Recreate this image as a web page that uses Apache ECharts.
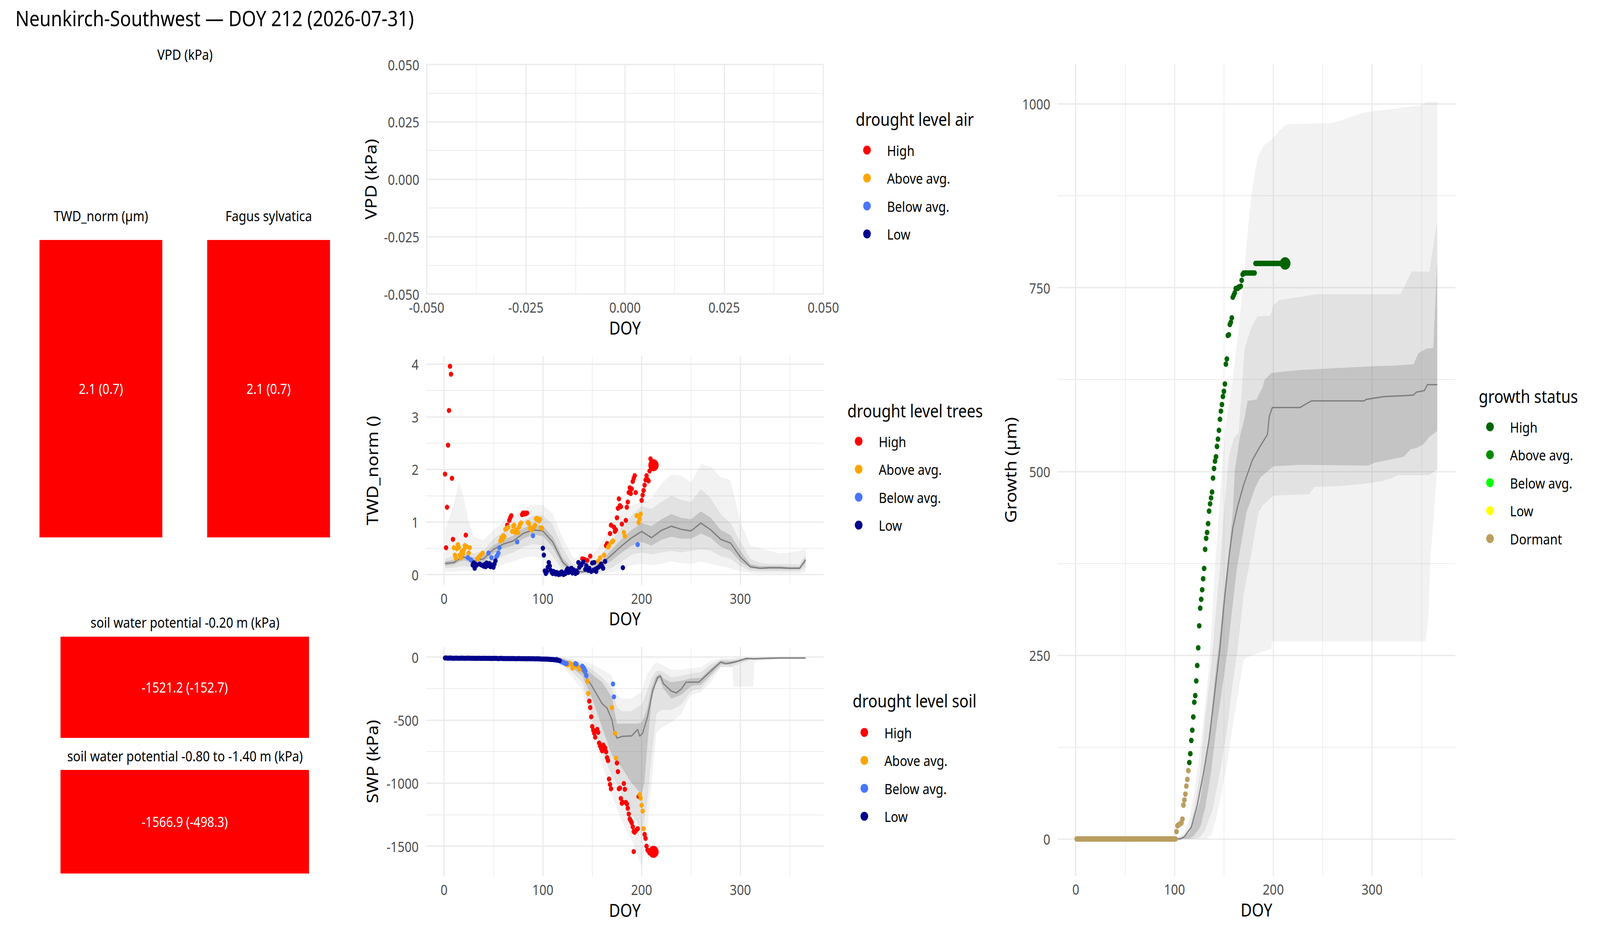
<!DOCTYPE html>
<html><head><meta charset="utf-8">
<script src="https://cdn.jsdelivr.net/npm/echarts@6/dist/echarts.min.js"></script>
<style>html,body{margin:0;padding:0;background:#fff;overflow:hidden;width:100%;height:100%}#c{width:4800px;height:2400px;transform-origin:0 0;position:absolute;left:0;top:0}</style>
</head><body><div id="c"></div>
<script>
// ---------------- DATA ----------------
const titleText = 'Neunkirch-Southwest \u2014 DOY 212 (2026-07-31)';
const currentDoy = 212;

const levelNames = ['High', 'Above avg.', 'Below avg.', 'Low'];
const levelCodes = ['H', 'A', 'B', 'L'];
const droughtColors = ['#FF0000', '#FFA500', '#4876FF', '#00008B'];
const growthNames = ['High', 'Above avg.', 'Below avg.', 'Low', 'Dormant'];
const growthColors = ['#006400', '#008B00', '#00FF00', '#FFFF00', '#BA9D5F'];

// tiles
const tileTitles = ['TWD_norm (\u00b5m)', 'Fagus sylvatica', 'soil water potential -0.20 m (kPa)', 'soil water potential -0.80 to -1.40 m (kPa)'];
const tileMeans = [2.1, 2.1, -1521.2, -1566.9];
const tileSds = [0.7, 0.7, -152.7, -498.3];
const tileLevel = ['High', 'High', 'High', 'High'];

// tick labels
const doyTicks = [0, 100, 200, 300];
const vpdTicks = [-0.05, -0.025, 0, 0.025, 0.05];
const twdTicks = [0, 1, 2, 3, 4];
const swpTicks = [-1500, -1000, -500, 0];
const growthTicks = [0, 250, 500, 750, 1000];

// TWD_norm daily values, DOY 1..212
const twdVal = [
  1.91, 0.51, 1.28, 2.46, 3.12, 3.96, 3.81, 1.83, 0.67, 0.51,
  0.37, 0.31, 0.49, 0.57, 0.52, 0.37, 0.32, 0.44, 0.40, 0.47,
  0.55, 0.75, 0.53, 0.32, 0.41, 0.51, 0.28, 0.26, 0.18, 0.22,
  0.12, 0.20, 0.18, 0.30, 0.33, 0.20, 0.37, 0.18, 0.41, 0.16,
  0.19, 0.15, 0.22, 0.17, 0.41, 0.21, 0.15, 0.32, 0.18, 0.14,
  0.20, 0.26, 0.34, 0.37, 0.41, 0.51, 0.64, 0.70, 0.66, 0.74,
  0.72, 0.86, 0.87, 0.94, 0.90, 1.03, 1.08, 1.12, 0.82, 0.92,
  0.94, 0.80, 0.85, 0.62, 0.80, 0.90, 0.96, 0.98, 1.14, 1.17,
  1.15, 1.17, 1.16, 1.17, 0.99, 0.97, 0.88, 0.86, 0.85, 0.74,
  0.90, 0.94, 1.06, 1.07, 1.04, 1.02, 1.05, 0.89, 0.88, 0.50,
  0.37, 0.07, 0.02, 0.05, 0.14, 0.23, 0.16, 0.08, 0.04, 0.02,
  0.06, 0.03, 0.01, 0.04, 0.02, 0.00, 0.03, 0.01, 0.05, 0.02,
  0.00, 0.03, 0.02, 0.08, 0.11, 0.04, 0.10, 0.06, 0.12, 0.03,
  0.09, 0.05, 0.02, 0.07, 0.04, 0.23, 0.14, 0.20, 0.18, 0.30,
  0.24, 0.29, 0.10, 0.17, 0.27, 0.08, 0.12, 0.35, 0.06, 0.22,
  0.08, 0.23, 0.10, 0.06, 0.12, 0.25, 0.15, 0.32, 0.20, 0.16,
  0.12, 0.37, 0.25, 0.55, 0.59, 0.52, 0.55, 0.78, 0.94, 0.62,
  0.64, 0.90, 0.82, 0.85, 1.08, 1.26, 1.44, 1.31, 1.29, 0.96,
  0.13, 0.80, 0.73, 1.03, 1.28, 1.38, 1.56, 1.65, 1.54, 1.63,
  1.77, 1.83, 1.88, 1.56, 1.12, 0.57, 0.99, 1.06, 1.15, 1.41,
  1.51, 1.60, 1.70, 1.80, 1.88, 1.81, 1.78, 1.97, 2.20, 2.10,
  2.05, 2.08
];
// drought level per day (H High, A Above avg., B Below avg., L Low)
const twdLevel =
  'HHHHHHHHHA' + 'AAAAAAAAAA' + 'AHABAABBLL' + 'LLLAALALAL' + 'LLLLBLLBLL' +
  'LLBBBBAAAA' + 'AAAHAHHHAA' + 'AAABAAAAHH' + 'HHHHAAAAAB' + 'AAAAAAAAAL' +
  'LLLLLLLLLL' + 'LLLLLLLLLL' + 'LLLLLLLLLL' + 'LLLLLLLLLH' + 'LHLLHLLHLL' +
  'LLLLLALALL' + 'LALHHAAHHA' + 'AHHHHHHHHH' + 'LAAHHHHHHH' + 'HHHHABAAAH' +
  'HHHHHHHHHH' + 'HH';

// TWD climatology: [doy, lo, hi]
const twdOuter = [[1,0.05,0.85],[10,0.05,1.35],[15,0.06,1.76],[20,0.07,1.45],[25,0.07,1.00],[30,0.06,0.72],[40,0.07,0.65],[50,0.12,0.85],[60,0.20,1.00],[70,0.25,1.10],[80,0.32,1.25],[90,0.35,1.33],[100,0.30,1.32],[110,0.15,1.15],[120,0.02,0.70],[130,0.00,0.35],[140,0.00,0.22],[150,0.00,0.35],[160,0.01,0.62],[170,0.04,0.95],[180,0.10,1.20],[190,0.18,1.32],[200,0.20,1.38],[210,0.18,1.45],[220,0.20,1.72],[230,0.25,1.90],[240,0.22,1.88],[250,0.20,1.75],[260,0.25,2.10],[270,0.20,2.05],[280,0.16,1.85],[290,0.12,1.80],[300,0.06,1.00],[310,0.03,0.55],[320,0.02,0.50],[330,0.02,0.45],[340,0.02,0.40],[350,0.02,0.42],[360,0.02,0.45],[366,0.05,0.50]];
const twdMid = [[1,0.12,0.30],[10,0.13,0.36],[15,0.15,0.42],[20,0.16,0.46],[25,0.15,0.44],[30,0.13,0.40],[40,0.15,0.45],[50,0.25,0.68],[60,0.35,0.82],[70,0.42,0.90],[80,0.52,1.02],[90,0.58,1.12],[100,0.55,1.13],[110,0.35,0.95],[120,0.08,0.50],[130,0.01,0.20],[140,0.01,0.14],[150,0.02,0.22],[160,0.06,0.40],[170,0.13,0.65],[180,0.25,0.90],[190,0.38,1.12],[200,0.42,1.30],[210,0.38,1.25],[220,0.42,1.38],[230,0.45,1.50],[240,0.42,1.42],[250,0.45,1.38],[260,0.48,1.62],[270,0.45,1.45],[280,0.35,1.15],[290,0.30,0.98],[300,0.16,0.62],[310,0.07,0.30],[320,0.06,0.22],[330,0.06,0.20],[340,0.06,0.20],[350,0.06,0.20],[360,0.06,0.20],[366,0.14,0.38]];
const twdInner = [[1,0.17,0.25],[10,0.19,0.28],[15,0.24,0.34],[20,0.27,0.40],[25,0.24,0.37],[30,0.20,0.32],[40,0.24,0.37],[50,0.40,0.56],[60,0.50,0.66],[70,0.55,0.74],[80,0.68,0.88],[90,0.76,0.95],[100,0.73,0.93],[110,0.52,0.72],[120,0.17,0.32],[130,0.04,0.11],[140,0.03,0.09],[150,0.05,0.14],[160,0.14,0.28],[170,0.27,0.48],[180,0.42,0.68],[190,0.55,0.85],[200,0.62,0.98],[210,0.55,0.92],[220,0.66,1.05],[230,0.72,1.15],[240,0.68,1.08],[250,0.68,1.05],[260,0.78,1.20],[270,0.70,1.08],[280,0.53,0.85],[290,0.45,0.75],[300,0.24,0.45],[310,0.12,0.20],[320,0.10,0.16],[330,0.10,0.16],[340,0.10,0.16],[350,0.10,0.15],[360,0.10,0.15],[366,0.22,0.32]];
const twdMed = [[1,0.21],[10,0.23],[15,0.29],[20,0.33],[25,0.30],[30,0.26],[40,0.30],[50,0.48],[60,0.58],[70,0.64],[80,0.78],[90,0.85],[100,0.83],[110,0.62],[120,0.24],[130,0.07],[140,0.05],[150,0.09],[160,0.21],[170,0.38],[180,0.55],[190,0.70],[200,0.82],[210,0.70],[220,0.84],[230,0.92],[240,0.86],[250,0.83],[260,0.98],[270,0.85],[280,0.67],[290,0.60],[300,0.33],[310,0.15],[320,0.12],[330,0.13],[340,0.13],[350,0.12],[360,0.12],[366,0.28]];

// Soil water potential points
const swpLowVals = [ // DOY 1..117
  -8,-8,-9,-9,-9,-8,-9,-9,-10,-10,
  -9,-9,-9,-10,-10,-10,-9,-9,-9,-10,
  -10,-10,-10,-9,-9,-10,-10,-10,-10,-10,
  -10,-11,-11,-10,-10,-10,-11,-11,-11,-10,
  -10,-11,-11,-11,-11,-11,-11,-12,-11,-11,
  -11,-11,-11,-12,-12,-12,-11,-11,-12,-12,
  -12,-12,-12,-12,-12,-12,-13,-12,-12,-12,
  -12,-13,-13,-13,-12,-12,-13,-13,-13,-13,
  -13,-13,-14,-14,-13,-13,-14,-14,-14,-14,
  -14,-15,-15,-14,-15,-15,-15,-16,-16,-16,
  -16,-17,-17,-17,-18,-18,-19,-19,-20,-20,
  -21,-22,-23,-24,-25,-27,-29
];
const swpBelow = [[114,-18],[116,-26],[118,-33],[119,-39],[121,-45],[122,-49],[124,-52],[133,-52],[134,-57],[140,-73],[141,-84],[142,-96],[143,-111],[144,-147],[171,-214],[172,-316]];
const swpAbove = [[125,-62],[127,-50],[129,-57],[130,-88],[133,-70],[136,-80],[137,-96],[145,-193],[146,-289],[170,-401],[173,-605],[174,-802],[198,-1091],[199,-1119],[200,-1176],[201,-1222],[202,-1361]];
const swpHigh = [[124,-57],[147,-350],[148,-401],[149,-474],[150,-551],[151,-580],[152,-605],[153,-636],[154,-590],[155,-574],[156,-597],[157,-682],[158,-705],[159,-725],[160,-744],[161,-698],[162,-710],[163,-721],[164,-752],[165,-798],[166,-821],[167,-968],[168,-1011],[169,-1045],[175,-841],[176,-909],[177,-1045],[178,-1040],[179,-1122],[180,-1160],[181,-1153],[182,-1003],[183,-1049],[184,-1153],[185,-1165],[186,-1200],[187,-1245],[188,-1284],[189,-1300],[190,-1315],[191,-1346],[192,-1384],[192,-1543],[193,-1390],[194,-1377],[195,-1370],[196,-1361],[197,-1106],[203,-1407],[204,-1438],[205,-1500],[206,-1531],[207,-1540],[208,-1554],[209,-1546],[210,-1550],[211,-1548],[212,-1545]];

// SWP climatology: [doy, lo, hi]
const swpOuter = [[1,-12,0],[100,-15,0],[110,-35,0],[120,-80,-3],[130,-160,-15],[140,-260,-30],[150,-600,-60],[160,-850,-100],[170,-1100,-150],[175,-1200,-300],[180,-1300,-330],[190,-1450,-330],[195,-1550,-300],[200,-1660,-280],[205,-1450,-150],[210,-1000,-80],[215,-600,-40],[220,-560,-60],[230,-520,-100],[240,-450,-100],[250,-300,-90],[260,-280,-80],[270,-200,-30],[280,-80,-10],[292,-80,-10],[293,-235,-8],[313,-235,-5],[314,-40,-3],[320,-30,-3],[330,-25,-2],[340,-20,-2],[350,-20,-2],[366,-20,-2]];
const swpMid = [[1,-10,-1],[100,-12,-2],[110,-25,-3],[120,-60,-8],[130,-120,-25],[140,-200,-50],[150,-500,-100],[160,-750,-160],[170,-950,-250],[175,-1000,-400],[180,-1100,-430],[190,-1250,-430],[195,-1300,-400],[200,-1400,-380],[205,-1200,-280],[210,-800,-170],[215,-450,-110],[220,-420,-110],[230,-420,-160],[240,-380,-150],[250,-270,-130],[260,-250,-120],[270,-160,-60],[280,-80,-20],[290,-80,-20],[300,-50,-12],[310,-25,-5],[320,-22,-6],[330,-18,-4],[340,-15,-3],[350,-15,-3],[366,-15,-3]];
const swpInner = [[1,-8,-2],[100,-10,-3],[110,-18,-5],[120,-40,-12],[130,-90,-40],[140,-150,-70],[150,-330,-140],[160,-560,-200],[170,-780,-320],[175,-820,-530],[180,-880,-528],[190,-1000,-528],[195,-1045,-528],[200,-1090,-520],[203,-985,-470],[206,-680,-400],[210,-350,-250],[214,-220,-160],[218,-170,-130],[222,-250,-170],[230,-330,-200],[240,-300,-190],[250,-230,-170],[260,-220,-165],[270,-140,-90],[280,-60,-30],[290,-60,-35],[300,-35,-20],[310,-18,-8],[320,-18,-10],[330,-14,-6],[340,-12,-5],[350,-12,-5],[366,-12,-5]];
const swpMed = [[1,-5],[100,-6],[110,-10],[120,-25],[130,-65],[140,-110],[150,-235],[160,-370],[165,-405],[170,-500],[172,-582],[175,-644],[180,-630],[190,-625],[196,-574],[198,-628],[201,-605],[206,-474],[211,-273],[216,-165],[219,-150],[222,-211],[230,-270],[235,-285],[240,-255],[245,-200],[258,-199],[270,-112],[280,-40],[285,-54],[295,-39],[306,-11],[314,-15],[324,-11],[340,-8],[366,-8]];

// Growth daily values, DOY 1..212
const growthVal = [
  0,0,0,0,0,0,0,0,0,0, 0,0,0,0,0,0,0,0,0,0,
  0,0,0,0,0,0,0,0,0,0, 0,0,0,0,0,0,0,0,0,0,
  0,0,0,0,0,0,0,0,0,0, 0,0,0,0,0,0,0,0,0,0,
  0,0,0,0,0,0,0,0,0,0, 0,0,0,0,0,0,0,0,0,0,
  0,0,0,0,0,0,0,0,0,0, 0,0,0,0,0,0,0,0,0,0,
  0, 10, 18, 19, 20, 21, 22, 27, 46, 53,
  61, 72, 81, 93, 104, 116, 134, 148, 166, 186,
  195, 215, 236, 260, 290, 314, 326, 339, 354, 368,
  394, 409, 417, 429, 446, 456, 464, 472, 491, 504,
  514, 520, 534, 544, 556, 571, 582, 591, 602, 609,
  619, 646, 653, 685, 686, 700, 703, 709, 737, 740,
  743, 749, 749, 749, 751, 751, 752, 760, 768, 770,
  770, 770, 770, 770, 770, 770, 770, 770, 770, 770,
  770, 783, 783, 783, 783, 783, 783, 783, 783, 783,
  783, 783, 783, 783, 783, 783, 783, 783, 783, 783,
  783, 783, 783, 783, 783, 783, 783, 783, 783, 783,
  783, 783
];
const growthPhase = [{from: 1, to: 114, status: 'Dormant'}, {from: 115, to: 212, status: 'High'}];

// Growth climatology paths [doy, value]
const gOuterHi = [[1,0],[100,0],[103,1],[109,9],[115,27],[121,72],[128,147],[134,221],[138,296],[141,370],[145,445],[148,501],[151,557],[155,590],[158,614],[165,695],[171,776],[175,840],[178,878],[184,927],[190,943],[198,951],[205,962],[213,972],[225,973],[260,974],[275,980],[290,988],[320,993],[349,998],[356,1003],[366,1003]];
const gOuterLo = [[1,0],[100,0],[131,0],[137,5],[142,27],[148,65],[154,109],[159,154],[165,203],[170,244],[178,250],[190,255],[198,259],[199,269],[354,269],[357,304],[359,380],[366,503]];
const gMidHi = [[1,0],[100,0],[109,5],[115,16],[120,42],[126,91],[131,165],[137,232],[141,296],[146,370],[150,445],[155,520],[160,545],[165,553],[171,667],[175,685],[179,699],[184,711],[197,712],[200,726],[206,733],[239,740],[242,741],[326,741],[329,742],[335,758],[340,772],[358,772],[366,841]];
const gMidLo = [[1,0],[100,0],[120,0],[126,3],[131,12],[139,42],[146,91],[153,147],[158,203],[164,259],[170,333],[177,382],[185,445],[190,455],[197,463],[200,467],[236,469],[242,479],[265,480],[291,483],[310,487],[320,491],[326,495],[358,495],[366,503]];
const gInHi = [[1,0],[100,0],[110,3],[115,9],[120,27],[126,53],[131,98],[137,165],[141,221],[146,277],[150,333],[155,389],[159,445],[161,500],[166,546],[171,573],[174,596],[183,598],[189,614],[191,624],[198,634],[211,636],[227,638],[300,643],[323,644],[342,646],[347,661],[355,667],[362,668],[366,789]];
const gInLo = [[1,0],[100,0],[115,0],[120,5],[126,16],[131,42],[137,91],[142,147],[148,203],[154,259],[157,296],[163,367],[173,445],[182,479],[187,492],[200,507],[227,509],[296,508],[303,512],[332,520],[339,530],[345,532],[352,537],[358,547],[366,555]];
const gMed = [[1,0],[106,0],[110,3],[117,16],[123,46],[129,87],[135,135],[140,191],[146,259],[150,318],[155,382],[159,423],[164,453],[170,482],[179,516],[187,535],[194,550],[196,575],[199,587],[227,587],[236,594],[239,596],[292,596],[294,598],[303,600],[313,602],[332,603],[342,604],[345,608],[353,610],[356,618],[366,618]];

// ---------------- STYLE / LAYOUT ----------------
const FONT = 'Noto Sans';
const TICK = {fontFamily: FONT, fontSize: 37, color: '#4D4D4D'};
const NAME = {fontFamily: FONT, fontSize: 46, color: '#000000'};
const GRIDC = '#EBEBEB';
const BAND = ['rgba(127,127,127,0.10)', 'rgba(127,127,127,0.13)', 'rgba(127,127,127,0.30)'];
const doyRange = [-18.3, 384.3];

function minors(ticks, lo, hi) {
  const step = ticks[1] - ticks[0];
  const out = [];
  ticks.forEach(t => { [t - step / 2, t + step / 2].forEach(m => { if (m > lo && m < hi && out.indexOf(m) < 0) out.push(m); }); });
  return out;
}
function gridLines(gi, xr, yr, xt, yt) {
  const d = [];
  minors(xt, xr[0], xr[1]).forEach(v => d.push({xAxis: v, lineStyle: {width: 1.8}}));
  minors(yt, yr[0], yr[1]).forEach(v => d.push({yAxis: v, lineStyle: {width: 1.8}}));
  xt.forEach(v => d.push({xAxis: v, lineStyle: {width: 3.6}}));
  yt.forEach(v => d.push({yAxis: v, lineStyle: {width: 3.6}}));
  return {type: 'line', xAxisIndex: gi, yAxisIndex: gi, data: [], z: 0, silent: true, animation: false,
    markLine: {z: 0, silent: true, animation: false, symbol: ['none', 'none'], label: {show: false},
      emphasis: {disabled: true}, lineStyle: {color: GRIDC, type: 'solid', width: 1.8}, data: d}};
}
function bandSeries(gi, hiPath, loPath, color) {
  const poly = hiPath.concat(loPath.slice().reverse());
  return {type: 'custom', xAxisIndex: gi, yAxisIndex: gi, silent: true, z: 1, animation: false,
    data: poly, encode: {x: 0, y: 1},
    renderItem: function (params, api) {
      if (params.dataIndex !== 0) return null;
      return {type: 'polygon', shape: {points: poly.map(p => api.coord(p))}, style: {fill: color}};
    }};
}
function tripBand(gi, trip, color) {
  return bandSeries(gi, trip.map(t => [t[0], t[2]]), trip.map(t => [t[0], t[1]]), color);
}
function medLine(gi, data) {
  return {type: 'line', xAxisIndex: gi, yAxisIndex: gi, data: data, showSymbol: false, symbol: 'none',
    silent: true, animation: false, z: 3, lineStyle: {color: '#7F7F7F', width: 3.5}};
}
function scatter(gi, name, color, data, small, big) {
  return {type: 'scatter', name: name, xAxisIndex: gi, yAxisIndex: gi, data: data, z: 4, animation: false,
    symbol: 'circle', symbolSize: d => (d[0] === currentDoy ? big : small), itemStyle: {color: color, opacity: 1}};
}
const plain = v => String(v);
function valAxis(gi, range, ticks, extra) {
  return Object.assign({type: 'value', gridIndex: gi, min: range[0], max: range[1],
    axisLine: {show: false}, axisTick: {show: false}, splitLine: {show: false},
    axisLabel: Object.assign({customValues: ticks, formatter: plain}, TICK)}, extra);
}
function legend(names, colors, left, top) {
  return {orient: 'vertical', left: left, top: top, padding: 0, itemWidth: 23, itemHeight: 23, itemGap: 31.5,
    icon: 'circle', selectedMode: false,
    data: names.map((n, i) => ({name: n, icon: 'circle', itemStyle: {color: colors[i], borderWidth: 0}})),
    textStyle: {fontFamily: FONT, fontSize: 37, color: '#000', lineHeight: 40, padding: [0, 0, 0, 43.5]}};
}
function txt(x, y, text, size, align) {
  return {type: 'text', x: x, y: y, silent: true,
    style: {text: text, fontFamily: FONT, fontSize: size, fill: '#000', align: align, textAlign: align,
      verticalAlign: 'middle', textVerticalAlign: 'middle'}};
}

// ---------------- BUILD ----------------
const twdRange = [-0.2, 4.155], swpRange = [-1738.6, 80.6], growthRange = [-50.2, 1054.2];
const series = [];

// TWD panel - grid 1
series.push(gridLines(1, doyRange, twdRange, doyTicks, twdTicks));
series.push(tripBand(1, twdOuter, BAND[0]), tripBand(1, twdMid, BAND[1]), tripBand(1, twdInner, BAND[2]));
series.push(medLine(1, twdMed));
levelCodes.forEach((code, k) => {
  const pts = [];
  twdVal.forEach((v, i) => { if (twdLevel[i] === code) pts.push([i + 1, v]); });
  series.push(scatter(1, levelNames[k], droughtColors[k], pts, 13, 31));
});

// SWP panel - grid 2
series.push(gridLines(2, doyRange, swpRange, doyTicks, swpTicks));
series.push(tripBand(2, swpOuter, BAND[0]), tripBand(2, swpMid, BAND[1]), tripBand(2, swpInner, BAND[2]));
series.push(medLine(2, swpMed));
const swpLow = swpLowVals.map((v, i) => [i + 1, v]);
[swpHigh, swpAbove, swpBelow, swpLow].forEach((pts, k) => {
  series.push(scatter(2, levelNames[k], droughtColors[k], pts, 13, 31));
});

// Growth panel - grid 3
series.push(gridLines(3, doyRange, growthRange, doyTicks, growthTicks));
series.push(bandSeries(3, gOuterHi, gOuterLo, BAND[0]), bandSeries(3, gMidHi, gMidLo, BAND[1]), bandSeries(3, gInHi, gInLo, BAND[2]));
series.push(medLine(3, gMed));
growthPhase.forEach(ph => {
  const pts = [];
  growthVal.forEach((v, i) => { const d = i + 1; if (d >= ph.from && d <= ph.to) pts.push([d, v]); });
  const k = growthNames.indexOf(ph.status);
  series.push(scatter(3, ph.status, growthColors[k], pts, 14, 32));
});

// Tiles - grids 4..7
const tileBoxes = [
  {left: 118.5, top: 614, width: 368.5, height: 761},
  {left: 621.5, top: 614, width: 368.5, height: 761},
  {left: 181.5, top: 1629, width: 745.5, height: 259},
  {left: 181.5, top: 1970, width: 745.5, height: 265}
];
const tileTitlePos = [[303, 551], [806, 551], [555, 1591], [555, 1933]];
const tileXAxes = [], tileYAxes = [];
tileBoxes.forEach((b, i) => {
  const gi = 4 + i;
  tileXAxes.push({type: 'category', gridIndex: gi, data: [tileTitles[i]], show: false, boundaryGap: true});
  tileYAxes.push({type: 'value', gridIndex: gi, min: 0, max: 1, show: false});
  series.push({type: 'bar', xAxisIndex: gi, yAxisIndex: gi, barWidth: '100%', animation: false, silent: true,
    data: [{value: 1, itemStyle: {color: droughtColors[levelNames.indexOf(tileLevel[i])]}}],
    label: {show: true, position: 'inside', color: '#FFFFFF', fontFamily: FONT, fontSize: 36,
      formatter: () => tileMeans[i].toFixed(1) + ' (' + tileSds[i].toFixed(1) + ')'}});
});

const fmt3 = v => (Math.abs(v) < 1e-12 ? 0 : v).toFixed(3);
const vpdAxisCommon = {type: 'value', min: vpdTicks[0], max: vpdTicks[vpdTicks.length - 1], interval: vpdTicks[1] - vpdTicks[0],
  axisLine: {show: false}, axisTick: {show: false},
  splitLine: {show: true, lineStyle: {color: GRIDC, width: 3.6}},
  minorTick: {show: false, splitNumber: 2},
  minorSplitLine: {show: true, lineStyle: {color: GRIDC, width: 1.8}}};

const option = {
  animation: false,
  backgroundColor: '#FFFFFF',
  textStyle: {fontFamily: FONT},
  grid: [
    {left: 1280, top: 165, width: 1190, height: 587, outerBoundsMode: 'none'},
    {left: 1278, top: 911, width: 1193, height: 586, outerBoundsMode: 'none'},
    {left: 1278, top: 1655, width: 1193, height: 587, outerBoundsMode: 'none'},
    {left: 3173, top: 164, width: 1193, height: 2077, outerBoundsMode: 'none'}
  ].concat(tileBoxes.map(b => Object.assign({outerBoundsMode: 'none'}, b))),
  xAxis: [
    Object.assign({gridIndex: 0, name: 'DOY', nameLocation: 'middle', nameGap: 63, nameTextStyle: NAME,
      axisLabel: Object.assign({formatter: fmt3, margin: 15}, TICK)}, vpdAxisCommon),
    valAxis(1, doyRange, doyTicks, {name: 'DOY', nameLocation: 'middle', nameGap: 62, nameTextStyle: NAME}),
    valAxis(2, doyRange, doyTicks, {name: 'DOY', nameLocation: 'middle', nameGap: 63, nameTextStyle: NAME}),
    valAxis(3, doyRange, doyTicks, {name: 'DOY', nameLocation: 'middle', nameGap: 63, nameTextStyle: NAME})
  ].concat(tileXAxes),
  yAxis: [
    Object.assign({gridIndex: 0, name: 'VPD (kPa)', nameLocation: 'middle', nameGap: 145, nameTextStyle: NAME,
      axisLabel: Object.assign({formatter: fmt3, margin: 22}, TICK)}, vpdAxisCommon),
    valAxis(1, twdRange, twdTicks, {name: 'TWD_norm ()', nameLocation: 'middle', nameGap: 138, nameTextStyle: NAME}),
    valAxis(2, swpRange, swpTicks, {name: 'SWP (kPa)', nameLocation: 'middle', nameGap: 138, nameTextStyle: NAME}),
    valAxis(3, growthRange, growthTicks, {name: 'Growth (\u00b5m)', nameLocation: 'middle', nameGap: 119, nameTextStyle: NAME})
  ].concat(tileYAxes),
  legend: [
    legend(levelNames, droughtColors, 2589.5, 364),
    legend(levelNames, droughtColors, 2564.5, 1109),
    legend(levelNames, droughtColors, 2581.5, 1854),
    legend(growthNames, growthColors, 4458.5, 1072)
  ],
  graphic: [
    txt(46, 45, titleText, 55, 'left'),
    txt(555, 138, 'VPD (kPa)', 37, 'center'),
    txt(2567, 304, 'drought level air', 46, 'left'),
    txt(2542, 1050, 'drought level trees', 46, 'left'),
    txt(2558, 1792, 'drought level soil', 46, 'left'),
    txt(4436, 1013, 'growth status', 46, 'left')
  ].concat(tileTitles.map((t, i) => txt(tileTitlePos[i][0], tileTitlePos[i][1], t, 37, 'center'))),
  series: series
};
[1, 2, 3].forEach(i => { option.xAxis[i].axisLabel.margin = 15; option.yAxis[i].axisLabel.margin = 22; });

// fit the 4800x2400 design into the actual viewport
const el = document.getElementById('c');
const vw = window.innerWidth || 4800, vh = window.innerHeight || 2400;
el.style.transform = 'scale(' + (vw / 4800) + ',' + (vh / 2400) + ')';

const chart = echarts.init(el, null, {renderer: 'svg', width: 4800, height: 2400});
chart.setOption(option);
</script>
</body></html>
